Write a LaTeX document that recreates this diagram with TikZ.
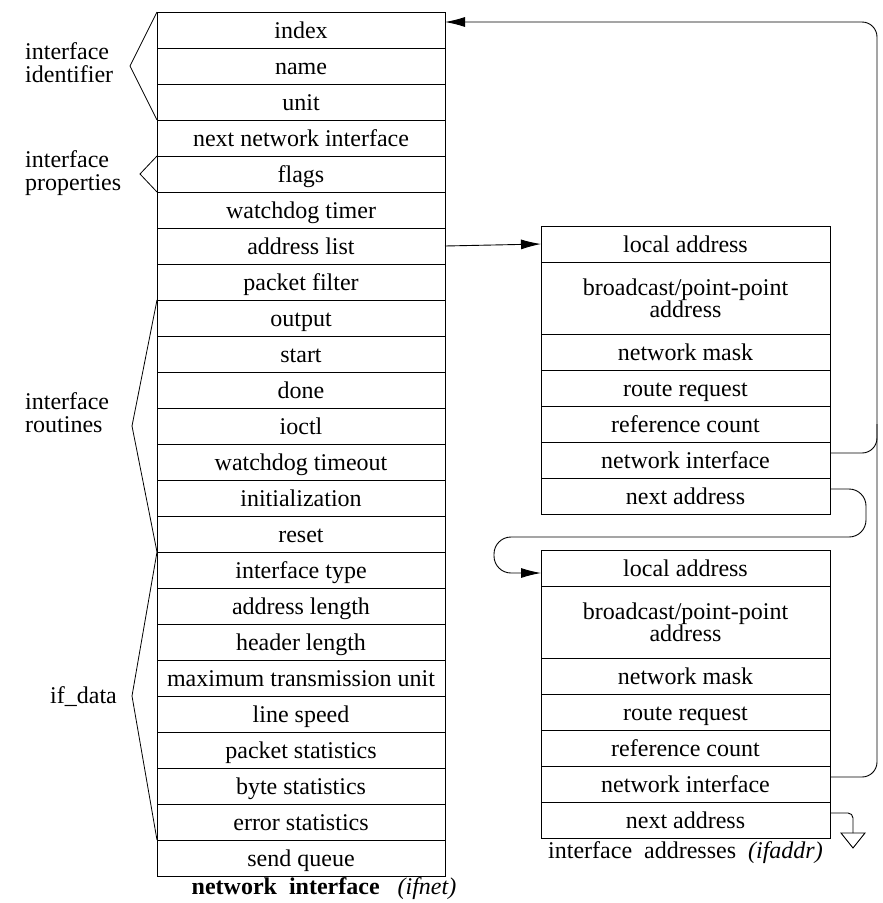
\documentclass[tikz,border=0pt]{standalone}
\usepackage{fontspec}
\setmainfont{Liberation Serif}
\usetikzlibrary{positioning,arrows.meta}

\tikzset{
  field/.style={draw, line width=0.9pt, minimum width=288pt, minimum height=36pt,
    inner sep=0pt, outer sep=0pt, align=center, text height=19pt, text depth=3pt,
    font=\fontsize{24}{22}\selectfont},
  wide/.style={minimum width=289pt},
  tall/.style={minimum height=72pt, text height=, text depth=},
  brace/.style={line width=0.8pt},
  wire/.style={line width=0.9pt},
  ptr/.style={wire, -{Latex[length=20pt,width=10pt]}},
  grouplabel/.style={anchor=west, align=left, inner sep=0pt, font=\fontsize{24}{23}\selectfont},
  caption/.style={inner sep=0pt, text height=16pt, text depth=5pt, font=\fontsize{24}{23}\selectfont}
}

\begin{document}
\begin{tikzpicture}[x=1pt, y=-1pt]
    \useasboundingbox (0,0) rectangle (883,903);

    % ifnet structure
    \foreach \txt [count=\i] in {index, name, unit, next network interface, flags,
        watchdog timer, address list, packet filter, output, start, done, ioctl,
        watchdog timeout, initialization, reset, interface type, address length,
        header length, maximum transmission unit, line speed, packet statistics,
        byte statistics, error statistics, send queue}
      \node[field] (f\i) at (301, {12+36*(\i-1)+18}) {\txt};

    % ifaddr structures
    \foreach \b/\ytop in {a/226, b/550} {
      \node[field, wide, anchor=north] (\b1) at (685.5,\ytop) {local address};
      \node[field, wide, tall, below=0pt of \b1] (\b2) {broadcast/point-point\\address};
      \node[field, wide, below=0pt of \b2] (\b3) {network mask};
      \node[field, wide, below=0pt of \b3] (\b4) {route request};
      \node[field, wide, below=0pt of \b4] (\b5) {reference count};
      \node[field, wide, below=0pt of \b5] (\b6) {network interface};
      \node[field, wide, below=0pt of \b6] (\b7) {next address};
    }

    % captions
    \node[caption, below=2pt of f24, xshift=23pt] (capnet)
      {\textbf{network\ \ interface}\ \ \ \textit{(ifnet)}};
    \node[caption, below=4pt of b7] (capaddr)
      {interface\ \ addresses\ \ \textit{(ifaddr)}};

    % groups of members
    \draw[brace] (f1.north west) -- ([xshift=-27pt]f2.west) -- (f3.south west);
    \draw[brace] (f5.north west) -- ([xshift=-17pt]f5.west) -- (f5.south west);
    \draw[brace] (f9.north west) -- ([xshift=-25pt]f12.west) -- (f15.south west);
    \draw[brace] (f16.north west) -- ([xshift=-25pt]f19.south west) -- (f23.south west);

    \node[grouplabel] (lident) at (25,63) {interface\\identifier};
    \node[grouplabel] (lprop) at (25,173) {interface\\properties};
    \node[grouplabel] (lrout) at (25,413) {interface\\routines};
    \node[grouplabel] (ldata) at (50,697) {if\_data};

    % pointers
    \coordinate (rail) at (877,22);
    \coordinate (ground) at (853,833);
    \draw[ptr] (f7.east) -- (a1.west);
    \draw[ptr, rounded corners=15pt] ([yshift=7pt]a6.east) -| (rail) -- ([yshift=8pt]f1.east);
    \draw[wire, rounded corners=15pt] ([yshift=7pt]b6.east) -| (rail |- a5.east);
    \draw[ptr, rounded corners=17pt] ([yshift=7pt]a7.east) -- ++(36,0) |- (494,537)
      |- ([yshift=-5pt]b1.west);
    \draw[wire, rounded corners=5pt] ([yshift=7pt]b7.east) -| (ground);
    \draw[wire] ([xshift=-12pt]ground) -- ([xshift=12pt]ground)
      -- ([yshift=-15pt]ground) -- cycle;
\end{tikzpicture}
\end{document}
